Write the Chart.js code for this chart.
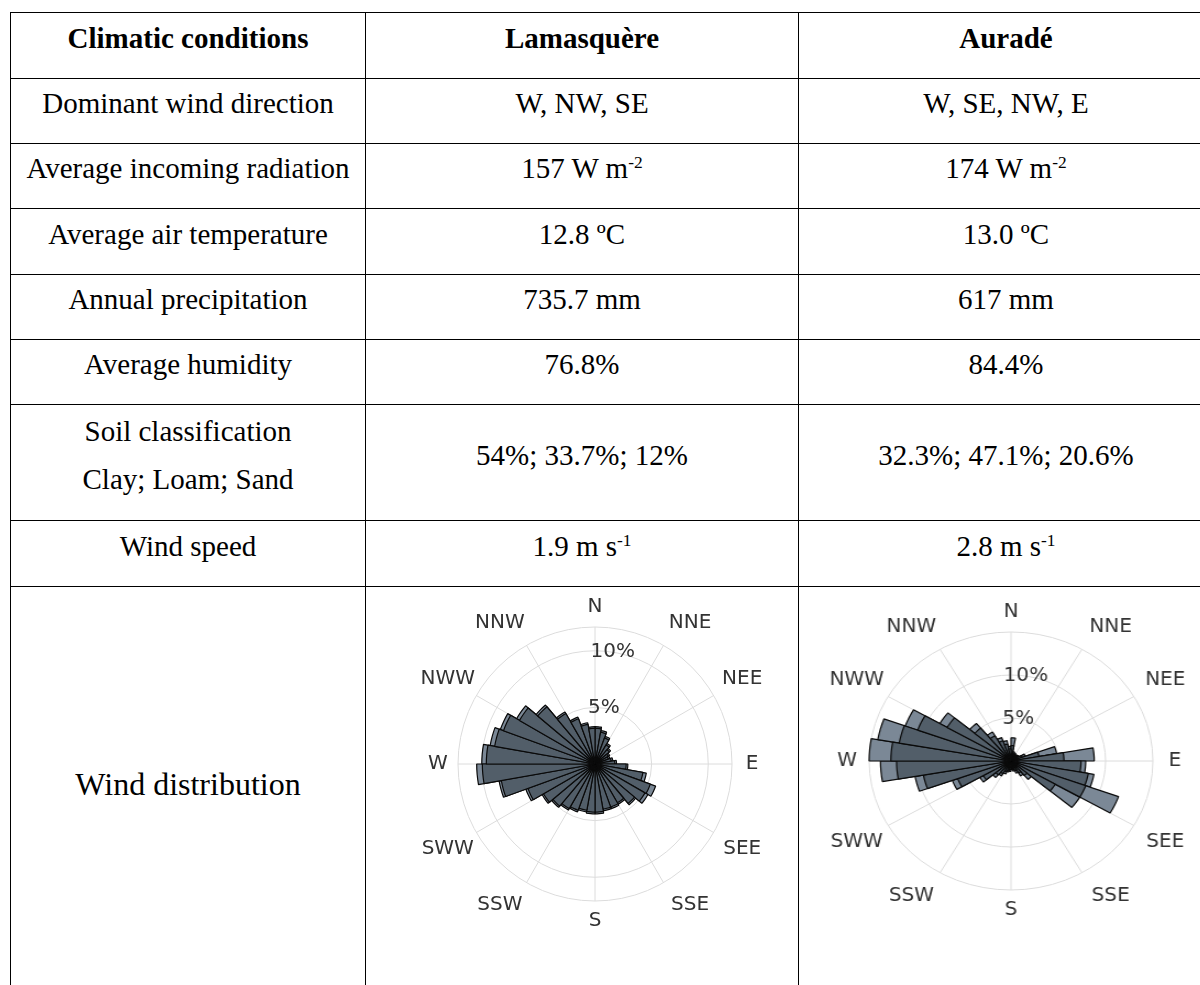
<!DOCTYPE html>
<html>
<head>
<meta charset="utf-8">
<script src="https://cdn.jsdelivr.net/npm/chart.js@4.4.1/dist/chart.umd.min.js"></script>
<style>
  html, body { margin: 0; padding: 0; background: #fff; overflow: hidden; }
  #page { position: relative; width: 1200px; height: 985px; overflow: hidden; }
  table {
    position: absolute; left: 10px; top: 12px;
    border-collapse: collapse; table-layout: fixed; width: 1203px;
    font-family: "Liberation Serif", "Times New Roman", serif; font-size: 29px; color: #000;
  }
  th, td {
    border: 1px solid #000; text-align: center; vertical-align: middle;
    padding: 0 0 15px 0; line-height: 33px;
  }
  th { font-weight: bold; }
  sup { font-size: 0.6em; line-height: 0; vertical-align: 0.6em; }
  .two { line-height: 48px; }
  .big { font-size: 32px; }
  canvas { position: absolute; }
</style>
</head>
<body>
<div id="page">
  <table>
    <colgroup><col style="width:355px"><col style="width:433px"><col style="width:415px"></colgroup>
    <tr style="height:66px"><th>Climatic conditions</th><th>Lamasquère</th><th>Auradé</th></tr>
    <tr style="height:65px"><td>Dominant wind direction</td><td>W, NW, SE</td><td>W, SE, NW, E</td></tr>
    <tr style="height:65px"><td>Average incoming radiation</td><td>157 W m<sup>-2</sup></td><td>174 W m<sup>-2</sup></td></tr>
    <tr style="height:66px"><td>Average air temperature</td><td>12.8 ºC</td><td>13.0 ºC</td></tr>
    <tr style="height:65px"><td>Annual precipitation</td><td>735.7 mm</td><td>617 mm</td></tr>
    <tr style="height:65px"><td>Average humidity</td><td>76.8%</td><td>84.4%</td></tr>
    <tr style="height:116px"><td class="two">Soil classification<br>Clay; Loam; Sand</td><td>54%; 33.7%; 12%</td><td>32.3%; 47.1%; 20.6%</td></tr>
    <tr style="height:66px"><td>Wind speed</td><td>1.9 m s<sup>-1</sup></td><td>2.8 m s<sup>-1</sup></td></tr>
    <tr style="height:410px"><td class="big">Wind distribution</td><td></td><td></td></tr>
  </table>
  <canvas id="roseLamasquere" width="380" height="380" style="left:405px;top:574px;width:380px;height:380px"></canvas>
  <canvas id="roseAurade" width="360" height="360" style="left:813px;top:581px;width:396px;height:360px"></canvas>
</div>

<script>
// 36 sektor arah angin (derajat, mulai dari utara searah jarum jam)
const sectors = ['0', '10', '20', '30', '40', '50', '60', '70', '80', '90', '100', '110',
                 '120', '130', '140', '150', '160', '170', '180', '190', '200', '210', '220', '230',
                 '240', '250', '260', '270', '280', '290', '300', '310', '320', '330', '340', '350'];

// Label arah pada lingkaran luar (tiap 30 derajat)
const compass = ['N', 'NNE', 'NEE', 'E', 'SEE', 'SSE', 'S', 'SSW', 'SWW', 'W', 'NWW', 'NNW'];

// Cincin frekuensi (%)
const ringValues = [5, 10];
const ringLabels = ['5%', '10%'];

// Lamasquère: frekuensi total dan bagian kecepatan rendah (%)
const lamasquereAll = [3.3, 3.0, 2.6, 2.1, 1.8, 1.5, 1.4, 1.6, 1.9, 2.9, 4.6, 5.7,
                       5.4, 4.7, 4.1, 4.2, 4.2, 4.4, 4.4, 4.3, 4.5, 4.7, 5.0, 5.4,
                       6.5, 8.6, 10.45, 10.0, 9.4, 8.9, 8.0, 6.8, 5.3, 4.4, 3.7, 3.3];
const lamasquereLow = [3.15, 2.85, 2.45, 1.95, 1.65, 1.35, 1.25, 1.45, 1.75, 2.75, 4.3, 5.2,
                       5.1, 4.55, 3.95, 4.05, 4.05, 4.25, 4.25, 4.15, 4.35, 4.55, 4.85, 5.25,
                       6.3, 8.4, 9.95, 9.6, 9.0, 8.6, 7.7, 6.6, 5.15, 4.25, 3.55, 3.15];
const lamasquereMax = 12.1;

// Auradé: frekuensi total dan bagian kecepatan rendah (%)
const auradeAll = [2.7, 1.1, 1.0, 0.9, 0.9, 1.0, 1.6, 4.9, 8.8, 7.9, 8.9, 12.1,
                   8.4, 2.8, 2.0, 1.5, 1.2, 1.0, 1.2, 1.3, 1.6, 2.0, 2.5, 3.8,
                   6.6, 10.3, 13.8, 15.0, 14.3, 11.9, 8.7, 5.7, 3.9, 2.9, 2.4, 1.7];
const auradeLow = [1.8, 0.9, 0.8, 0.7, 0.7, 0.8, 1.2, 3.0, 5.6, 7.4, 8.3, 8.4,
                   5.4, 2.2, 1.6, 1.2, 1.0, 0.8, 1.0, 1.1, 1.3, 1.7, 2.1, 3.4,
                   6.0, 9.4, 12.1, 12.7, 12.0, 10.5, 7.8, 5.0, 3.4, 2.5, 2.0, 1.4];
const auradeMax = 15.0;

// Tulis teks di kanvas, dikoreksi bila kanvas ditarik horizontal
function putText(ctx, txt, x, y, sx) {
    ctx.save();
    ctx.translate(x, y);
    ctx.scale(1 / sx, 1);
    ctx.fillText(txt, 0, 0);
    ctx.restore();
}

// Plugin: jari-jari arah + label arah dan label cincin
const roseFrame = {
    id: 'roseFrame',
    beforeDatasetsDraw(chart) {
        const s = chart.scales.r;
        const ctx = chart.ctx;
        const outer = s.getDistanceFromCenterForValue(s.max);
        ctx.save();
        ctx.strokeStyle = '#dcdcdc';
        ctx.lineWidth = 1;
        compass.forEach((c, i) => {
            const a = (i * 30 - 90) * Math.PI / 180;
            ctx.beginPath();
            ctx.moveTo(s.xCenter, s.yCenter);
            ctx.lineTo(s.xCenter + outer * Math.cos(a), s.yCenter + outer * Math.sin(a));
            ctx.stroke();
        });
        ctx.restore();
    },
    afterDatasetsDraw(chart, args, opts) {
        const s = chart.scales.r;
        const ctx = chart.ctx;
        const sx = opts.sx || 1;
        const outer = s.getDistanceFromCenterForValue(s.max);
        ctx.save();
        ctx.font = '20px "DejaVu Sans"';
        ctx.fillStyle = '#333';
        ctx.textAlign = 'center';
        ctx.textBaseline = 'middle';
        compass.forEach((c, i) => {
            const tilt = i % 6 === 1 ? 4 : (i % 6 === 5 ? -4 : 0);
            const dist = outer + (i % 3 === 0 ? 20 : 33);
            const a = (i * 30 + tilt - 90) * Math.PI / 180;
            putText(ctx, c, s.xCenter + dist * Math.cos(a), s.yCenter + dist * Math.sin(a), sx);
        });
        ringValues.forEach((v, i) => {
            const d = s.getDistanceFromCenterForValue(v);
            const a = (9 - 90) * Math.PI / 180;
            putText(ctx, ringLabels[i], s.xCenter + d * Math.cos(a), s.yCenter + d * Math.sin(a), sx);
        });
        ctx.restore();
    }
};

// Gambar satu mawar angin
function drawRose(canvasId, low, all, rmax, pad, sx) {
    const ctx = document.getElementById(canvasId).getContext('2d');
    return new Chart(ctx, {
        type: 'polarArea',
        data: {
            labels: sectors,
            datasets: [
                { label: 'low', data: low, backgroundColor: '#525e69' },
                { label: 'all', data: all, backgroundColor: '#7b8896' }
            ]
        },
        options: {
            responsive: false,
            animation: false,
            devicePixelRatio: 1,
            layout: { padding: pad },
            elements: { arc: { borderWidth: 1.2, borderColor: '#0a0a0a' } },
            plugins: {
                legend: { display: false },
                tooltip: { enabled: false },
                roseFrame: { sx: sx }
            },
            scales: {
                r: {
                    min: 0,
                    max: rmax,
                    startAngle: 0,
                    afterBuildTicks: (scale) => {
                        scale.ticks = [0].concat(ringValues, [rmax]).map(v => ({ value: v }));
                    },
                    ticks: { display: false },
                    grid: { display: true, color: '#dcdcdc', lineWidth: 1, circular: true },
                    angleLines: { display: false },
                    pointLabels: { display: false }
                }
            }
        },
        plugins: [roseFrame]
    });
}

drawRose('roseLamasquere', lamasquereLow, lamasquereAll, lamasquereMax, 53, 1);
drawRose('roseAurade', auradeLow, auradeAll, auradeMax, 51, 1.1);
</script>
</body>
</html>
